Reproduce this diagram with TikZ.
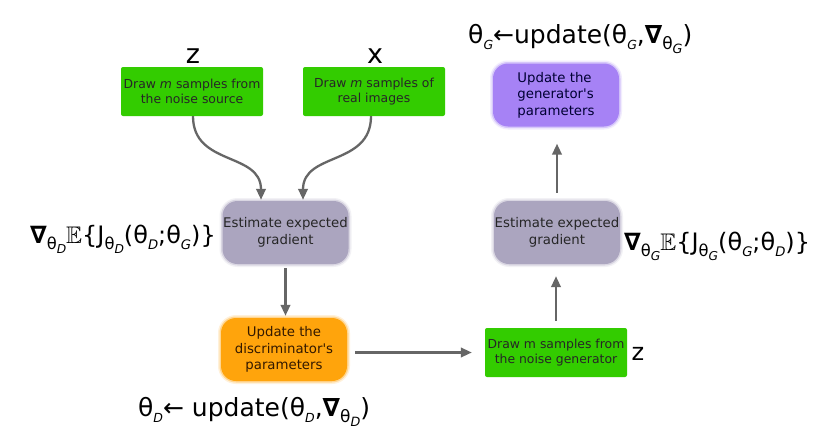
\documentclass[tikz,border=0pt]{standalone}
\usepackage{fontspec}
\setmainfont{DejaVu Sans}
\usepackage{amssymb}
\usepackage{graphicx}
\usetikzlibrary{arrows.meta,calc}
\definecolor{gbox}{HTML}{33CC00}
\definecolor{ebox}{HTML}{ABA5BF}
\definecolor{pbox}{HTML}{A682F5}
\definecolor{obox}{HTML}{FFA40C}
\definecolor{arrc}{HTML}{666666}
\newcommand\lw[2][0.6]{\raisebox{-0.25em}{\scalebox{#1}{#2}}}
\newcommand\ap{\textquotesingle}
\begin{document}
\begin{tikzpicture}[x=1pt,y=-1pt,
  greenbox/.style={fill=gbox, rounded corners=2pt, minimum width=142pt, minimum height=49pt,
    inner sep=0pt, align=center, text=black!85, font=\fontsize{12.4}{15}\selectfont},
  softbox/.style={fill=#1, rounded corners=15pt,
    preaction={draw=#1, draw opacity=0.15, line width=6pt},
    preaction={draw=#1, draw opacity=0.35, line width=3pt},
    minimum width=126pt, minimum height=63pt, inner sep=0pt, align=center,
    text=black!85, font=\fontsize{13.3}{16.5}\selectfont},
  fml/.style={inner sep=0pt, font=\fontsize{24}{28}\selectfont},
  zlab/.style={inner sep=0pt, anchor=base, font=\fontsize{27}{30}\selectfont},
  arr/.style={draw=arrc, line width=2.3pt, -{Triangle[length=11pt,width=9.5pt]}}
]
\useasboundingbox (0,0) rectangle (833,439);
\fill[white] (0,0) rectangle (833,439);

% boxes
\node[greenbox] (g1) at (192,91.5) {Draw \textit{m} samples from\\the noise source};
\node[greenbox] (g2) at (374,91.5) {Draw \textit{m} samples of\\real images};
\node[greenbox] (g3) at (556,352.5) {Draw m samples from\\the noise generator};
\node[softbox=ebox] (eL) at (285.5,232.5) {Estimate expected\\gradient};
\node[softbox=ebox] (eR) at (557,232.5) {Estimate expected\\gradient};
\node[softbox=pbox, text=black!80!blue, align=left] (pu) at (556,95) {Update the\\generator\ap s\\parameters};
\node[softbox=obox, text=black!80!orange] (or) at (284,349.5) {Update the\\discriminator\ap s\\parameters};

% labels
\node[zlab] (zA) at (193,63) {z};
\node[zlab] (zB) at (375,63) {x};
\node[zlab, font=\fontsize{24}{28}\selectfont] (zC) at (638,360) {z};

\node[fml, anchor=base east] (fL) at (216,243)
  {\textbf{∇}\lw[0.68]{θ\lw[0.75]{\textit{D}}}$\mathbb{E}$\{J\lw[0.68]{θ\lw[0.75]{\textit{D}}}(θ\lw[0.55]{\textit{D}};θ\lw[0.55]{\textit{G}})\}};
\node[fml, anchor=base west] (fR) at (624,250)
  {\textbf{∇}\lw[0.68]{θ\lw[0.75]{\textit{G}}}$\mathbb{E}$\{J\lw[0.68]{θ\lw[0.75]{\textit{G}}}(θ\lw[0.55]{\textit{G}};θ\lw[0.55]{\textit{D}})\}};
\node[fml, anchor=base west, font=\fontsize{25}{28}\selectfont] (fT) at (468,43)
  {θ\lw[0.5]{\textit{G}}←update(θ\lw[0.5]{\textit{G}},\textbf{∇}\lw[0.68]{θ\lw[0.75]{\textit{G}}})};
\node[fml, anchor=base west, font=\fontsize{25}{28}\selectfont] (fB) at (138,416)
  {θ\lw[0.5]{\textit{D}}← update(θ\lw[0.5]{\textit{D}},\textbf{∇}\lw[0.68]{θ\lw[0.75]{\textit{D}}})};

% connectors
\draw[arr] ($(g1.south)+(1,0)$) .. controls +(0,50) and +(0,-48) .. ($(eL.north)+(-24.5,-1)$);
\draw[arr] ($(g2.south)+(-3,0)$) .. controls +(0,50) and +(0,-48) .. ($(eL.north)+(17.5,-1)$);
\draw[arr, shorten <=4pt, shorten >=2pt] (eL.south) -- (eL.south |- or.north);
\draw[arr, shorten <=8pt, shorten >=13pt] (or.east |- g3.west) -- (g3.west);
\draw[arr, shorten <=7pt, shorten >=12pt] (g3.north) -- (g3.north |- eR.south);
\draw[arr, shorten <=8pt, shorten >=17pt] (eR.north) -- (eR.north |- pu.south);
\end{tikzpicture}
\end{document}
